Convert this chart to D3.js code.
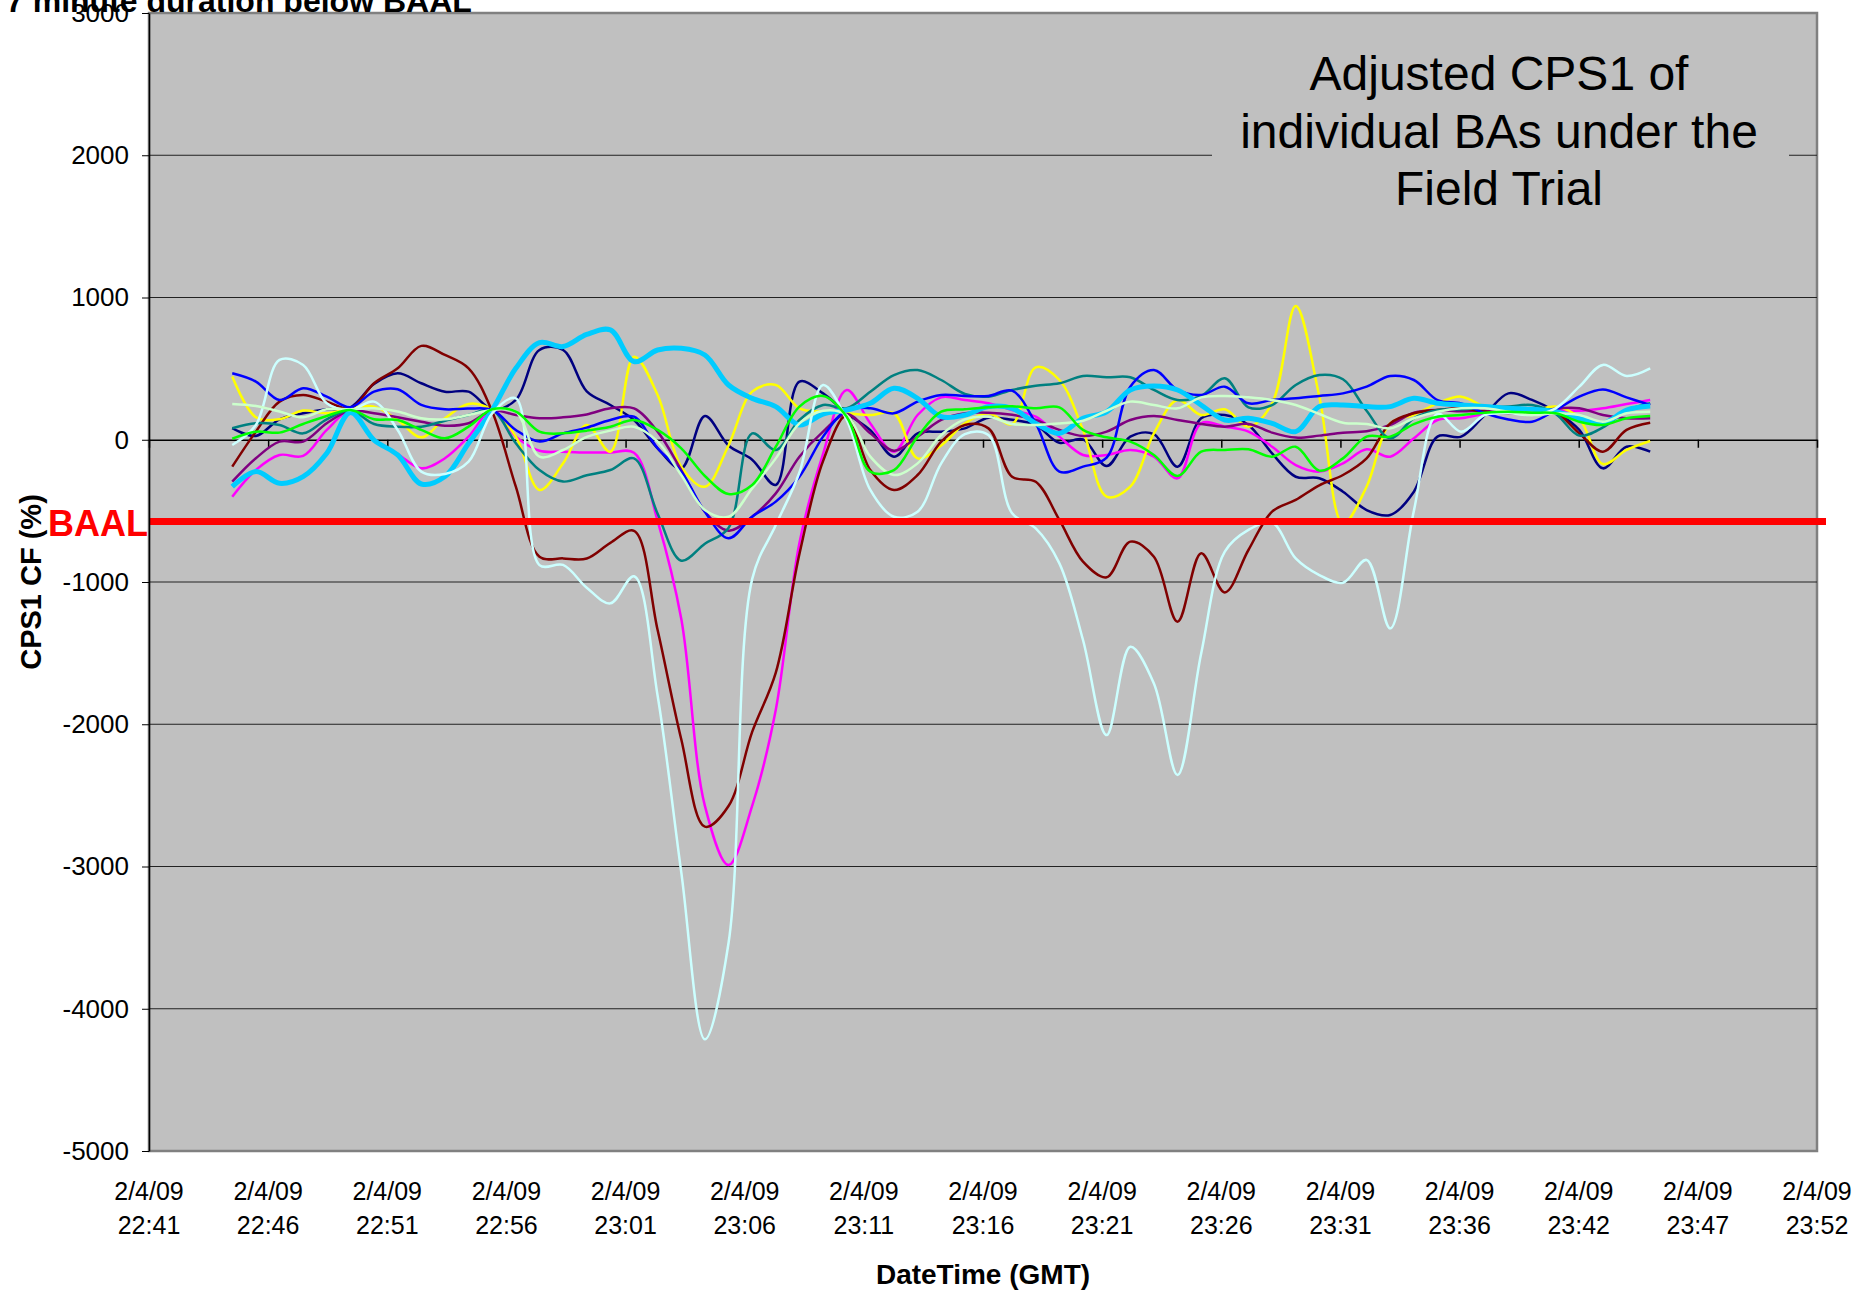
<!DOCTYPE html>
<html>
<head>
<meta charset="utf-8">
<script src="https://cdn.jsdelivr.net/npm/d3@7"></script>
<style>
body{margin:0;background:#fff;}
svg{display:block;font-family:"Liberation Sans",Arial,sans-serif;}
</style>
</head>
<body>
<svg width="1874" height="1293"></svg>
<script>
// axis labels
const tickDate = "2/4/09";
const tickTimes = ["22:41","22:46","22:51","22:56","23:01","23:06","23:11","23:16","23:21","23:26","23:31","23:36","23:42","23:47","23:52"];
const tickStep = 5.0667;      // minutes between labelled ticks
const sampleStart = 3.54;     // first sample, minutes after first tick
const sampleStep = 1.005;     // one sample per minute
const baal = -575;

// CPS1 CF (%) per BA, one value per minute
const navy = [81,27,144,186,214,228,392,467,397,338,338,214,280,631,631,340,244,139,-60,-201,167,-40,-140,-318,408,326,186,68,-119,45,57,80,155,140,104,-21,3,-185,22,40,-189,151,174,104,-96,-260,-271,-365,-494,-529,-365,22,22,174,326,280,197,69,-201,-49,-84];
const magenta = [-400,-212,-107,-114,69,198,-2,-100,-201,-130,22,209,22,-77,-84,-90,-89,-91,-570,-1259,-2574,-2990,-2574,-1898,-725,-100,350,115,-84,174,298,279,256,209,162,22,-107,-107,-72,-119,-271,115,92,57,-49,-178,-224,-166,-67,-119,10,139,151,181,197,197,209,204,221,251,279];
const yellow = [444,158,144,205,186,221,233,139,17,151,252,209,22,-353,-166,104,-84,584,315,-189,-330,-40,338,385,221,197,186,174,186,-131,-40,115,186,110,509,420,69,-400,-330,45,279,174,214,92,256,940,303,-590,-330,115,175,256,303,233,214,204,233,151,-171,-72,-9];
const purple = [-295,-130,-13,-13,116,205,186,158,127,99,116,205,174,151,158,178,221,221,57,-213,-506,-639,-541,-377,-119,57,181,45,-77,22,139,186,190,175,139,69,26,57,139,167,139,111,92,111,50,15,29,50,59,104,190,209,200,204,186,186,218,221,174,151,151];
const maroon = [-189,57,268,315,268,221,397,502,660,596,502,198,-330,-822,-834,-835,-725,-640,-1338,-2106,-2720,-2575,-2054,-1637,-803,-150,170,-213,-353,-248,-13,104,80,-260,-295,-564,-857,-967,-716,-822,-1279,-798,-1073,-775,-505,-423,-320,-248,-131,115,186,209,221,197,186,186,190,45,-84,69,120];
const teal = [81,116,104,45,144,205,111,92,92,134,174,209,-25,-213,-294,-250,-213,-131,-520,-850,-731,-620,45,-72,139,244,221,338,455,490,420,322,303,350,380,397,448,439,439,350,279,308,432,228,244,385,455,425,204,10,150,209,214,226,233,244,181,29,87,204,256];
const blue = [467,409,280,362,303,228,338,355,245,214,219,209,69,-13,45,85,139,162,-60,-225,-506,-693,-541,-435,-260,22,209,221,186,268,315,308,308,345,115,-224,-189,-125,373,490,350,315,373,256,279,291,308,326,373,448,420,279,256,186,143,127,209,303,354,298,244];
const skyBlue = [-330,-224,-306,-259,-95,191,-2,-107,-311,-259,-25,209,502,683,655,740,772,549,631,643,596,385,291,233,104,181,209,256,362,291,162,174,233,221,115,45,151,197,350,378,350,244,139,151,115,57,233,244,233,233,291,256,244,233,221,214,197,151,115,209,237];
const lightCyan = [-37,104,561,526,256,209,268,69,-224,-241,-154,186,291,-881,-880,-1040,-1150,-960,-1800,-3040,-4215,-3538,-980,-600,-230,385,139,-353,-541,-506,-166,40,33,-517,-623,-869,-1408,-2076,-1455,-1713,-2357,-1502,-787,-634,-583,-834,-951,-1005,-845,-1326,-500,181,57,174,186,174,221,373,526,448,502];
const lightGreen = [252,238,198,158,214,214,221,198,151,144,174,209,198,-119,-72,20,64,92,-13,-248,-494,-541,-342,-131,115,204,174,-119,-248,-166,33,143,162,110,104,115,134,204,268,244,221,298,308,298,279,244,181,120,111,80,151,197,221,221,197,174,186,174,127,186,197];
const green = [8,57,50,111,167,209,144,139,69,10,92,214,198,57,45,64,92,139,69,-60,-255,-381,-318,-49,233,308,162,-224,-213,22,197,214,228,235,221,228,69,17,-13,-107,-255,-84,-72,-67,-119,-49,-217,-131,22,22,110,162,174,190,197,190,186,127,104,151,167];

const series = [
  {values: navy, color: "#000080"},
  {values: magenta, color: "#FF00FF"},
  {values: yellow, color: "#FFFF00"},
  {values: purple, color: "#800080"},
  {values: maroon, color: "#800000"},
  {values: teal, color: "#008080"},
  {values: blue, color: "#0000FF"},
  {values: skyBlue, color: "#00CCFF", w: 5},
  {values: lightCyan, color: "#CCFFFF"},
  {values: lightGreen, color: "#CCFFCC"},
  {values: green, color: "#00FF00"}
];

const svg = d3.select("svg");
const plotLeft = 149, plotRight = 1817, plotTop = 13, plotBottom = 1151;
const tickMinutes = tickTimes.map((d, i) => i * tickStep);
const x = d3.scaleLinear().domain([0, 14 * tickStep]).range([plotLeft, plotRight]);
const y = d3.scaleLinear().domain([-5000, 3000]).range([plotBottom, plotTop]);

// plot area
svg.append("rect").attr("x", plotLeft).attr("y", plotTop).attr("width", plotRight - plotLeft).attr("height", plotBottom - plotTop)
   .attr("fill", "#C0C0C0").attr("stroke", "#808080").attr("stroke-width", 2.5);

// gridlines
svg.append("g").selectAll("line")
   .data(d3.range(-4000, 3000, 1000).filter(d => d !== 0))
   .enter().append("line")
   .attr("x1", plotLeft).attr("x2", plotRight)
   .attr("y1", d => y(d)).attr("y2", d => y(d))
   .attr("stroke", "#222").attr("stroke-width", 1);

// text box
svg.append("rect").attr("x", 1212).attr("y", 28).attr("width", 577).attr("height", 200).attr("fill", "#C0C0C0");
svg.append("text").attr("x", 1499).attr("y", 90).attr("text-anchor", "middle").attr("font-size", 48)
   .selectAll("tspan")
   .data(["Adjusted CPS1 of", "individual BAs under the", "Field Trial"])
   .enter().append("tspan")
   .attr("x", 1499).attr("dy", (d, i) => i ? 57.5 : 0)
   .text(d => d);

// zero axis with ticks
const xAxis = svg.append("g").attr("transform", "translate(0," + y(0) + ")")
   .call(d3.axisBottom(x).tickValues(tickMinutes).tickSize(8).tickSizeOuter(0).tickFormat(""));
xAxis.select(".domain").attr("stroke", "#000").attr("stroke-width", 1.5);
xAxis.selectAll(".tick line").attr("stroke", "#000").attr("stroke-width", 1.5);

// BA lines
const line = d3.line()
   .x((d, i) => x(sampleStart + i * sampleStep))
   .y(d => y(d))
   .curve(d3.curveCatmullRom.alpha(0.5));
svg.append("g").selectAll("path")
   .data(series)
   .enter().append("path")
   .attr("d", d => line(d.values))
   .attr("fill", "none")
   .attr("stroke", d => d.color)
   .attr("stroke-width", d => d.w || 2.5)
   .attr("stroke-linejoin", "round");

// BAAL
svg.append("line").attr("x1", plotLeft).attr("x2", 1826).attr("y1", y(baal)).attr("y2", y(baal))
   .attr("stroke", "#FF0000").attr("stroke-width", 7);
svg.append("text").attr("x", 148).attr("y", y(baal) + 14).attr("text-anchor", "end")
   .attr("font-size", 36).attr("font-weight", "bold").attr("fill", "#FF0000").text("BAAL");

// y axis
const yAxis = svg.append("g").attr("transform", "translate(" + plotLeft + ",0)")
   .call(d3.axisLeft(y).tickValues(d3.range(-5000, 3001, 1000)).tickSize(7).tickSizeOuter(0).tickPadding(13).tickFormat(d => String(d)));
yAxis.attr("font-family", null).attr("font-size", null);
yAxis.selectAll("text").attr("font-size", 26).attr("fill", "#000");
yAxis.select(".domain").attr("stroke", "#000").attr("stroke-width", 1.5);
yAxis.selectAll(".tick line").attr("stroke", "#000");

// x labels along the bottom
const xl = svg.append("g").selectAll("text")
   .data(tickTimes)
   .enter().append("text")
   .attr("text-anchor", "middle").attr("font-size", 25);
xl.append("tspan").attr("x", (d, i) => x(tickMinutes[i])).attr("y", 1200).text(tickDate);
xl.append("tspan").attr("x", (d, i) => x(tickMinutes[i])).attr("y", 1234).text(d => d);

// titles
svg.append("text").attr("x", 983).attr("y", 1284).attr("text-anchor", "middle")
   .attr("font-size", 28).attr("font-weight", "bold").text("DateTime (GMT)");
svg.append("text").attr("transform", "translate(41,582) rotate(-90)").attr("text-anchor", "middle")
   .attr("font-size", 29).attr("font-weight", "bold").text("CPS1 CF (%)");
svg.append("text").attr("x", 6).attr("y", 12)
   .attr("font-size", 32).attr("font-weight", "bold").text("7 minute duration below BAAL");
</script>
</body>
</html>
